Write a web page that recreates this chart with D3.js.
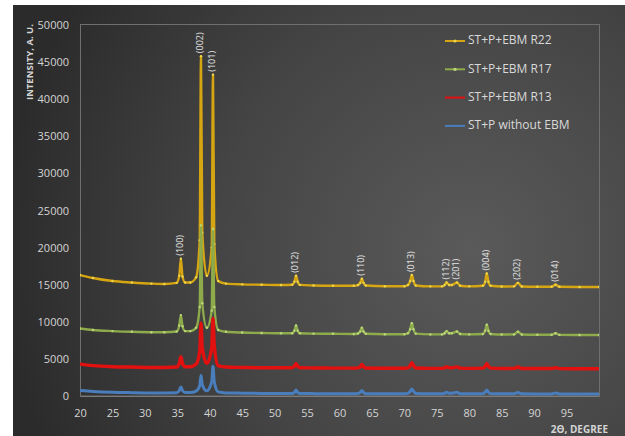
<!DOCTYPE html>
<html>
<head>
<meta charset="utf-8">
<script src="https://cdn.jsdelivr.net/npm/d3@7"></script>
<style>
  html, body { margin: 0; padding: 0; background: #fff; }
  svg { display: block; }
  text { font-family: "Open Sans", "DejaVu Sans", sans-serif; }
</style>
</head>
<body>
<svg id="chart" width="625" height="436"></svg>
<script>
// 2θ positions (degrees) shared by all four diffraction patterns
const twoTheta = [
  20, 22, 25, 28, 31, 33,
  34.9, 35.3, 35.55, 35.8, 36.2,
  37.0, 37.9, 38.45, 38.65, 38.85, 39.55, 40.3, 40.5, 40.7, 41.3,
  42.5, 45, 48, 51,
  52.7, 53.05, 53.3, 53.55, 53.9,
  56, 59, 62.2,
  62.85, 63.2, 63.45, 63.7, 64.05,
  67, 70,
  70.55, 70.9, 71.15, 71.4, 71.75,
  74, 75.8,
  76.2, 76.5, 76.9, 77.3, 78.1, 78.6,
  80, 82.1, 82.45, 82.7, 82.95, 83.3,
  85, 86.9, 87.5, 88.1, 90.5, 92.7, 93.3, 93.9, 97, 100
];

// Intensities (a.u.) per sample
const r22 = [
  16300, 15900, 15500, 15300, 15150, 15100,
  15250, 16200, 18500, 16100, 15300,
  15300, 16000, 21000, 45800, 22000, 16200, 20000, 43300, 20500, 15500,
  15150, 15050, 15000, 14950,
  15000, 15400, 16200, 15400, 14980,
  14900, 14850, 14850,
  14950, 15250, 15800, 15250, 14900,
  14800, 14800,
  14950, 15500, 16300, 15500, 14900,
  14780, 14780,
  14950, 15300, 14950, 14950, 15300, 14850,
  14780, 14850, 15400, 16500, 15400, 14850,
  14750, 14780, 15250, 14750, 14720, 14730, 15000, 14720, 14700, 14700
];
const r17 = [
  9100, 8900, 8750, 8650, 8600, 8600,
  8700, 9500, 10900, 9400, 8750,
  8750, 9200, 12000, 23000, 12500, 9200, 11500, 22500, 12000, 8900,
  8650, 8550, 8500, 8450,
  8450, 8800, 9500, 8800, 8450,
  8400, 8380, 8350,
  8420, 8700, 9200, 8700, 8380,
  8330, 8330,
  8450, 9000, 9800, 9000, 8400,
  8300, 8300,
  8450, 8750, 8450, 8450, 8700, 8350,
  8300, 8350, 8800, 9600, 8800, 8350,
  8280, 8300, 8650, 8280, 8250, 8250, 8450, 8240, 8230, 8230
];
const r13 = [
  4300, 4100, 3950, 3900, 3850, 3850,
  3900, 4400, 5300, 4400, 3950,
  3950, 4300, 6000, 9800, 6500, 4400, 6500, 10500, 6800, 4100,
  3900, 3850, 3800, 3800,
  3800, 4000, 4400, 4000, 3800,
  3780, 3760, 3750,
  3800, 3950, 4250, 3950, 3770,
  3740, 3740,
  3800, 4100, 4500, 4100, 3780,
  3720, 3720,
  3800, 3950, 3800, 3800, 3930, 3750,
  3720, 3750, 4000, 4400, 4000, 3750,
  3700, 3720, 3900, 3700, 3700, 3700, 3800, 3690, 3680, 3680
];
const noEbm = [
  750, 620, 500, 450, 420, 420,
  440, 750, 1200, 750, 460,
  460, 650, 1400, 2800, 1500, 700, 1900, 4000, 1900, 550,
  420, 380, 350, 330,
  330, 480, 800, 480, 330,
  320, 310, 310,
  340, 480, 750, 480, 320,
  300, 300,
  350, 650, 950, 650, 330,
  300, 300,
  360, 520, 360, 360, 500, 320,
  300, 320, 520, 800, 520, 320,
  290, 300, 480, 290, 280, 280, 420, 280, 280, 280
];

const seriesNames = ["ST+P+EBM R22", "ST+P+EBM R17", "ST+P+EBM R13", "ST+P without EBM"];
const seriesColors = ["#d6a512", "#8eab4c", "#e31010", "#4a7dbb"];
const markerColors = ["#ecd54a", "#bcd77a", null, null];

// Miller indices labelled over the R22 pattern
const peakLabels = ["(100)", "(002)", "(101)", "(012)", "(110)", "(013)", "(112)", "(201)", "(004)", "(202)", "(014)"];
const peakAngles = [35.55, 38.65, 40.5, 53.3, 63.45, 71.15, 76.5, 78.1, 82.7, 87.5, 93.3];

const xTickValues = [20, 25, 30, 35, 40, 45, 50, 55, 60, 65, 70, 75, 80, 85, 90, 95];
const yTickValues = [0, 5000, 10000, 15000, 20000, 25000, 30000, 35000, 40000, 45000, 50000];

const svg = d3.select("#chart");
const W = 625, H = 436;
const plot = { left: 80, right: 599, top: 25, bottom: 396 };

// Chart background: dark radial gradient
const defs = svg.append("defs");
const grad = defs.append("radialGradient")
  .attr("id", "bg").attr("gradientUnits", "userSpaceOnUse")
  .attr("cx", 470).attr("cy", 250).attr("r", 470);
grad.append("stop").attr("offset", "0%").attr("stop-color", "#5a5a5a");
grad.append("stop").attr("offset", "55%").attr("stop-color", "#444444");
grad.append("stop").attr("offset", "100%").attr("stop-color", "#2b2b2b");

svg.append("rect").attr("x", 0).attr("y", 0).attr("width", W).attr("height", H).attr("fill", "#ffffff");
svg.append("rect").attr("x", 13).attr("y", 5).attr("width", W - 13).attr("height", H - 5).attr("fill", "url(#bg)");

const x = d3.scaleLinear().domain([20, 100]).range([plot.left, plot.right]);
const y = d3.scaleLinear().domain([0, 50000]).range([plot.bottom, plot.top]);

// Plot frame
svg.append("rect")
  .attr("x", plot.left + 0.5).attr("y", plot.top - 0.5)
  .attr("width", plot.right - plot.left).attr("height", plot.bottom - plot.top + 0.5)
  .attr("fill", "none").attr("stroke", "#6f6f6f").attr("stroke-width", 1);

// Axes
const tickColor = "#d4d4d4";
const xAxis = svg.append("g").attr("transform", `translate(0,${plot.bottom})`)
  .call(d3.axisBottom(x).tickValues(xTickValues).tickSize(0).tickPadding(13).tickFormat(d3.format("d")));
xAxis.select(".domain").attr("stroke", "#7c7c7c");
xAxis.selectAll("text").attr("fill", tickColor).attr("font-size", "11px");

const yAxis = svg.append("g").attr("transform", `translate(${plot.left},0)`)
  .call(d3.axisLeft(y).tickValues(yTickValues).tickSize(0).tickPadding(11).tickFormat(d3.format("d")));
yAxis.select(".domain").attr("stroke", "#6f6f6f");
yAxis.selectAll("text").attr("fill", tickColor).attr("font-size", "11px");

// Axis titles
svg.append("text")
  .attr("transform", "translate(30,62) rotate(-90)")
  .attr("text-anchor", "middle").attr("dominant-baseline", "middle")
  .attr("font-size", "9.5px").attr("font-weight", "bold").attr("fill", tickColor)
  .text("INTENSITY, A. U.");
svg.append("text")
  .attr("x", 608).attr("y", 433)
  .attr("text-anchor", "end")
  .attr("font-size", "10px").attr("font-weight", "bold").attr("fill", tickColor)
  .text("2Θ, DEGREE");

// Diffraction patterns
const allSeries = [r22, r17, r13, noEbm];
const widths = [2.4, 2.4, 3.4, 3];
const line = d3.line().x(d => x(d[0])).y(d => y(d[1])).curve(d3.curveMonotoneX);
const clip = defs.append("clipPath").attr("id", "plotClip");
clip.append("rect").attr("x", plot.left).attr("y", plot.top - 2)
  .attr("width", plot.right - plot.left).attr("height", plot.bottom - plot.top + 2);

const gLines = svg.append("g").attr("clip-path", "url(#plotClip)");
allSeries.forEach((vals, i) => {
  const pts = twoTheta.map((t, k) => [t, vals[k]]);
  gLines.append("path")
    .datum(pts)
    .attr("fill", "none")
    .attr("stroke", seriesColors[i])
    .attr("stroke-width", widths[i])
    .attr("stroke-linejoin", "round")
    .attr("d", line);
  if (markerColors[i]) {
    gLines.append("g").selectAll("circle").data(pts).join("circle")
      .attr("cx", d => x(d[0])).attr("cy", d => y(d[1])).attr("r", 1.2)
      .attr("fill", markerColors[i]);
  }
});

// Peak labels (rotated, above the R22 peaks)
peakAngles.forEach((a, i) => {
  const k = twoTheta.indexOf(a);
  const px = x(a), py = y(r22[k]) - 3;
  svg.append("text")
    .attr("transform", `translate(${px},${py}) rotate(-90)`)
    .attr("text-anchor", "start").attr("dominant-baseline", "middle")
    .attr("font-size", "9px").attr("fill", "#e6e6e6")
    .text(peakLabels[i]);
});

// Legend
const legend = svg.append("g");
seriesNames.forEach((name, i) => {
  const ly = 41 + i * 28.3;
  legend.append("line")
    .attr("x1", 445).attr("x2", 465).attr("y1", ly).attr("y2", ly)
    .attr("stroke", seriesColors[i]).attr("stroke-width", 2);
  if (markerColors[i]) {
    legend.append("circle").attr("cx", 455).attr("cy", ly).attr("r", 1.6).attr("fill", markerColors[i]);
  }
  legend.append("text")
    .attr("x", 468).attr("y", ly)
    .attr("dominant-baseline", "middle")
    .attr("font-size", "12px").attr("fill", "#d9d9d9")
    .text(name);
});
</script>
</body>
</html>
